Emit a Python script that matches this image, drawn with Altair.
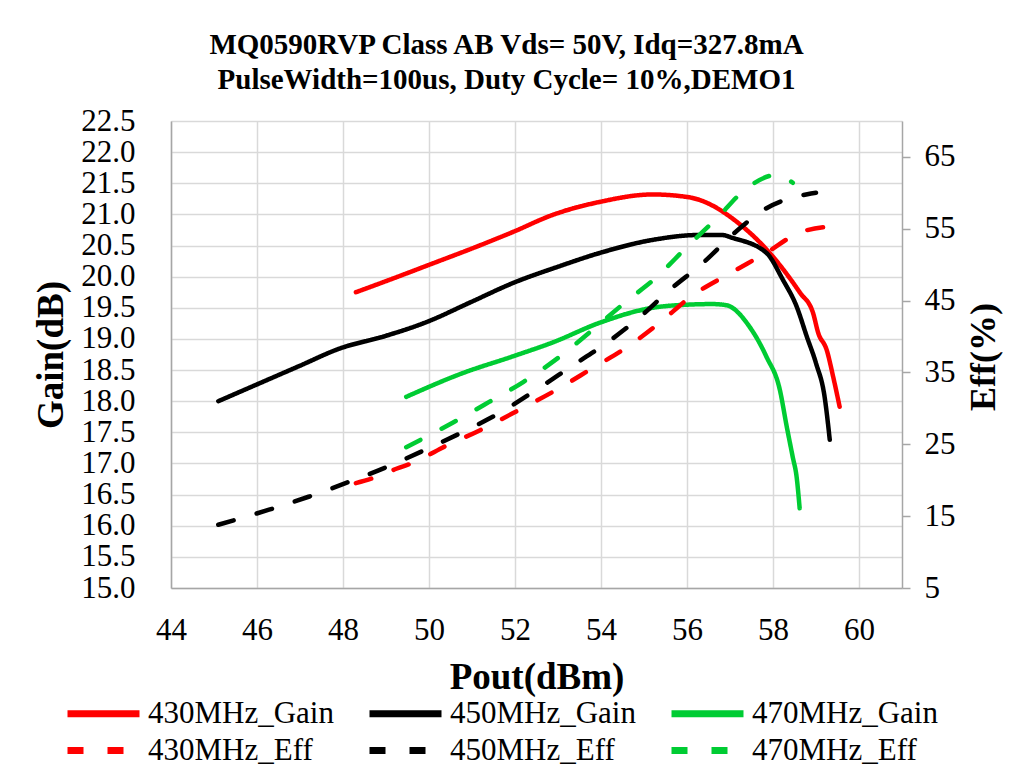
import altair as alt
import pandas as pd

# ---------------- data ----------------
g430_x = [48.3, 49.2, 50.0, 51.1, 51.96, 52.87, 53.97, 55.2, 56.0, 56.3, 57.16, 58.0, 58.63, 58.93, 59.05, 59.25, 59.4, 59.55]
g430_y = [19.75, 19.98, 20.19, 20.48, 20.72, 20.99, 21.2, 21.32, 21.28, 21.23, 20.88, 20.32, 19.74, 19.42, 19.1, 18.82, 18.39, 17.91]

g450_x = [45.1, 46.0, 47.0, 47.9, 49.0, 49.94, 51.0, 51.96, 53.0, 53.97, 55.2, 56.3, 56.8, 57.07, 57.85, 58.23, 58.55, 58.79, 59.0, 59.2, 59.32]
g450_y = [18.0, 18.27, 18.57, 18.84, 19.05, 19.27, 19.6, 19.9, 20.16, 20.38, 20.59, 20.67, 20.67, 20.62, 20.38, 19.95, 19.52, 19.03, 18.61, 18.07, 17.38]

g470_x = [49.47, 50.78, 51.95, 52.9, 53.97, 55.2, 56.0, 56.6, 56.92, 57.46, 57.85, 58.16, 58.32, 58.46, 58.55, 58.62]
g470_y = [18.07, 18.45, 18.72, 18.95, 19.26, 19.5, 19.55, 19.56, 19.54, 19.19, 18.71, 18.18, 17.59, 17.1, 16.78, 16.28]

e430_x = [48.3, 48.77, 49.24, 49.66, 50.3, 51.2, 52.1, 52.97, 53.8, 54.6, 55.36, 56.1, 57.0, 57.83, 58.67, 59.5]
e430_y = [19.6, 20.45, 21.6, 22.5, 24.5, 27.0, 29.8, 32.6, 35.6, 38.5, 41.9, 45.6, 48.8, 51.6, 54.6, 55.4]

e450_x = [45.1, 46.28, 47.2, 48.15, 49.0, 49.9, 50.78, 51.68, 52.5, 53.3, 54.13, 54.9, 55.6, 56.4, 57.1, 57.86, 58.8, 59.0]
e450_y = [13.8, 15.9, 17.7, 19.8, 21.8, 24.2, 26.7, 29.5, 32.6, 35.8, 39.1, 42.7, 46.5, 50.4, 54.4, 57.9, 59.8, 60.0]

e470_x = [49.47, 50.55, 51.4, 52.2, 53.04, 53.8, 54.55, 55.3, 56.0, 56.7, 57.4, 58.09, 58.46]
e470_y = [24.6, 28.0, 30.9, 33.7, 37.2, 40.9, 44.7, 48.3, 52.5, 56.5, 60.7, 62.5, 61.4]

series_names = ["430MHz_Gain", "450MHz_Gain", "470MHz_Gain", "430MHz_Eff", "450MHz_Eff", "470MHz_Eff"]
series_colors = ["#FF0000", "#000000", "#00CC33", "#FF0000", "#000000", "#00CC33"]
series_dashes = [[1, 0], [1, 0], [1, 0], [16, 24], [16, 24], [16, 24]]

x_ticks = [44, 46, 48, 50, 52, 54, 56, 58, 60]
gain_ticks = [15.0, 15.5, 16.0, 16.5, 17.0, 17.5, 18.0, 18.5, 19.0, 19.5, 20.0, 20.5, 21.0, 21.5, 22.0, 22.5]
eff_ticks = [5, 15, 25, 35, 45, 55, 65]

title_lines = ["MQ0590RVP Class AB Vds= 50V, Idq=327.8mA", "PulseWidth=100us, Duty Cycle= 10%,DEMO1"]


def frame(name, xs, ys, col):
    return pd.DataFrame({"series": name, "pout": xs, col: ys, "order": list(range(len(xs)))})


gain_df = pd.concat([
    frame("430MHz_Gain", g430_x, g430_y, "gain"),
    frame("450MHz_Gain", g450_x, g450_y, "gain"),
    frame("470MHz_Gain", g470_x, g470_y, "gain"),
])
eff_df = pd.concat([
    frame("430MHz_Eff", e430_x, e430_y, "eff"),
    frame("450MHz_Eff", e450_x, e450_y, "eff"),
    frame("470MHz_Eff", e470_x, e470_y, "eff"),
])

FONT = "Liberation Serif"
W, H = 731, 467

# long horizontal line symbol: unit path from -1 to 5 (scaled by sqrt(size)/2 = 12 -> 72 px)
legend = alt.Legend(
    title=None, orient="none", legendX=-107, legendY=577, columns=3, direction="horizontal",
    symbolType="M-1,0H5", symbolSize=576, symbolStrokeWidth=7,
    labelFont=FONT, labelFontSize=31, labelColor="#000000", labelOffset=53,
    columnPadding=21, rowPadding=5, padding=0, labelLimit=400,
)

color = alt.Color("series:N", sort=series_names,
                  scale=alt.Scale(domain=series_names, range=series_colors), legend=legend)
dash = alt.StrokeDash("series:N", sort=series_names,
                      scale=alt.Scale(domain=series_names, range=series_dashes), legend=legend)

x_enc = alt.X("pout:Q", scale=alt.Scale(domain=[44, 61], nice=False, zero=False),
              axis=alt.Axis(values=x_ticks, title="Pout(dBm)", grid=True, ticks=False,
                            labelPadding=27, titlePadding=14, labelFlush=False))

gain_layer = alt.Chart(gain_df).mark_line(strokeWidth=4.5, interpolate="monotone", strokeCap="round").encode(
    x=x_enc,
    y=alt.Y("gain:Q", scale=alt.Scale(domain=[15, 22.5], nice=False, zero=False),
            axis=alt.Axis(values=gain_ticks, format=".1f", title="Gain(dB)", grid=True, ticks=False,
                          orient="left", labelPadding=36, titleX=-120, titleY=H / 2,
                          titleAngle=-90, titleAlign="center", titleBaseline="middle")),
    color=color,
    strokeDash=dash,
    order="order:Q",
    detail="series:N",
)

eff_layer = alt.Chart(eff_df).mark_line(strokeWidth=4.5, interpolate="monotone", strokeCap="round").encode(
    x=x_enc,
    y=alt.Y("eff:Q", scale=alt.Scale(domain=[5, 70], nice=False, zero=False),
            axis=alt.Axis(values=eff_ticks, title="Eff(%)", grid=False, ticks=True, tickSize=8,
                          orient="right", labelPadding=14, titleX=81, titleY=H / 2 + 2,
                          titleAngle=-90, titleAlign="center", titleBaseline="middle",
                          titleFontSize=36, tickColor="#a6a6a6", tickWidth=1.5)),
    color=color,
    strokeDash=dash,
    order="order:Q",
    detail="series:N",
)

chart = alt.layer(gain_layer, eff_layer).resolve_scale(y="independent").properties(
    width=W, height=H,
    title=alt.TitleParams(text=title_lines, font=FONT, fontSize=29, fontWeight="bold",
                          lineHeight=35, color="#000000", anchor="middle", frame="group",
                          offset=10, dx=-30),
    autosize=alt.AutoSizeParams(type="none"),
    padding={"left": 163, "top": 113, "right": 101, "bottom": 187},
    background="white",
).configure_view(stroke=None).configure_axis(
    labelFont=FONT, labelFontSize=31, labelColor="#000000",
    titleFont=FONT, titleFontSize=37, titleFontWeight="bold", titleColor="#000000",
    gridColor="#d9d9d9", gridWidth=1.5, domainColor="#a6a6a6", domainWidth=1.5,
)

chart.save("out.html", embed_options={"renderer": "svg", "actions": False})
